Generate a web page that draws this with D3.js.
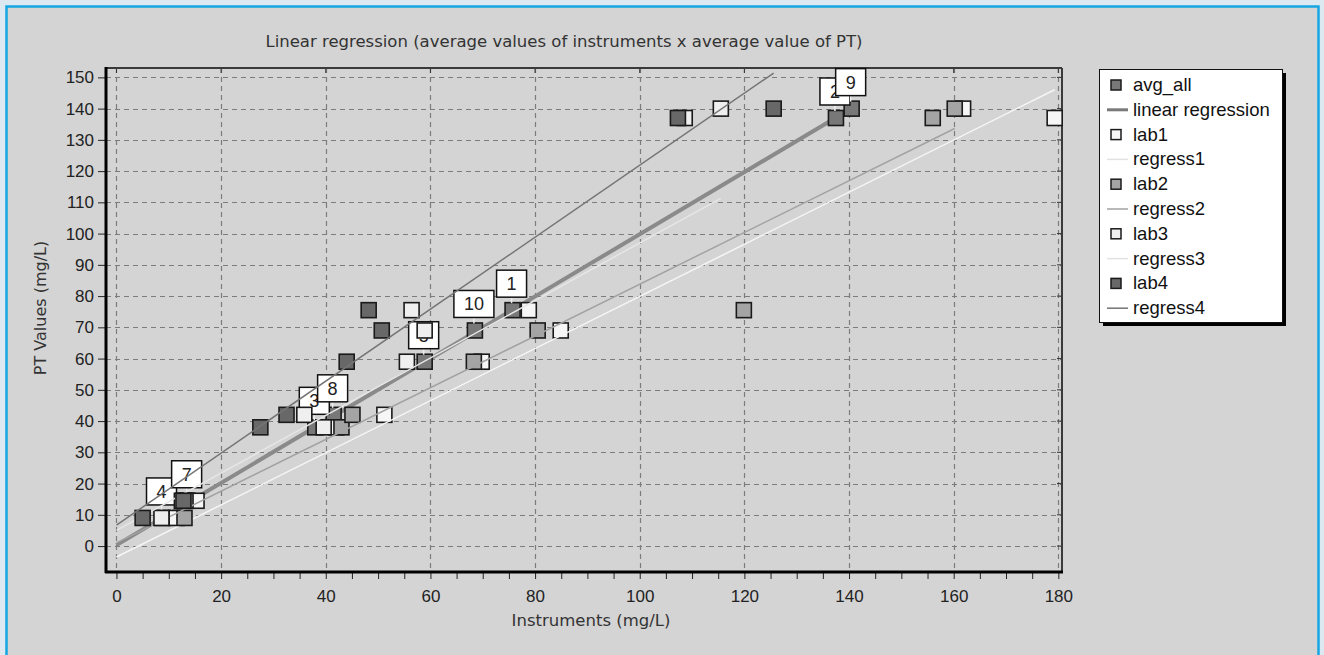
<!DOCTYPE html>
<html>
<head>
<meta charset="utf-8">
<script src="https://cdnjs.cloudflare.com/ajax/libs/d3/7.8.5/d3.min.js"></script>
<style>
  body { margin: 0; background: #dde9f0; }
  svg { display: block; }
  .tick text { font-family: 'Liberation Sans', Arial, sans-serif; font-size: 17px; fill: #222; }
</style>
</head>
<body>
<svg id="chart" width="1324" height="655"></svg>
<script>
// sample numbers (labels on avg_all points) and PT values
var samples = ['1', '2', '3', '4', '5', '7', '8', '9', '10'];
var ptValues = [75.5, 137, 38, 9, 59, 14.5, 42, 140, 69];

// instrument averages per series (mg/L)
var avgAll = [75.7, 137.5, 38, 8.8, 58.9, 13.6, 41.5, 140.5, 68.5];
var lab1 = [78.8, 179.3, 42, 11.5, 69.8, 15.3, 51.2, 161.8, 84.9];
var lab2 = [119.9, 156, 43, 13, 68.3, 13.2, 45.1, 160.2, 80.5];
var lab3 = [56.4, 108.6, 39.6, 8.6, 55.5, 12.5, 35.9, 115.5, 58.9];
var lab4 = [48.2, 107.3, 27.5, 5, 44, 12.8, 32.5, 125.6, 50.7];

var seriesNames = ['avg_all', 'lab1', 'lab2', 'lab3', 'lab4'];
var seriesValues = [avgAll, lab1, lab2, lab3, lab4];

// regression lines: y = a + b*x, from 0 to max x of the series
var regNames = ['linear regression', 'regress1', 'regress2', 'regress3', 'regress4'];
var regIntercept = [0.3, -3.5, 1, 5, 6.7];
var regSlope = [0.995, 0.834, 0.828, 0.92, 1.152];

var xTicks = d3.range(0, 181, 20);
var yTicks = d3.range(0, 151, 10);

(function () {
    var markFill = ['#787878', '#f6f6f6', '#a4a4a4', '#efefef', '#686868'];
    var lineColor = ['#8a8a8a', '#f6f6f6', '#a2a2a2', '#e6e6e6', '#747474'];
    var lineWidth = [4, 1.5, 1.5, 1.5, 1.5];

    var svg = d3.select('#chart');

    // frame
    svg.append('rect').attr('x', 0).attr('y', 0).attr('width', 1324).attr('height', 655).attr('fill', '#dde9f0');
    svg.append('rect').attr('x', 6.5).attr('y', 6.5).attr('width', 1312).attr('height', 700)
        .attr('fill', '#d4d4d4').attr('stroke', '#15a6e2').attr('stroke-width', 2.5);

    var pL = 106, pR = 1062, pT = 68, pB = 572;
    var x = d3.scaleLinear().domain([-2, 180.7]).range([pL, pR]);
    var y = d3.scaleLinear().domain([-8.3, 153]).range([pB, pT]);

    // title
    svg.append('text').attr('x', 564).attr('y', 47).attr('text-anchor', 'middle')
        .style('font-family', 'DejaVu Sans, sans-serif').style('font-size', '16.5px').attr('fill', '#333')
        .text('Linear regression (average values of instruments x average value of PT)');

    // grid
    var grid = svg.append('g').attr('stroke', '#7c7c7c').attr('stroke-dasharray', '5,4').attr('stroke-width', 1.2);
    grid.selectAll('.gx').data(xTicks).join('line')
        .attr('x1', function (d) { return Math.round(x(d)) + 0.5; })
        .attr('x2', function (d) { return Math.round(x(d)) + 0.5; })
        .attr('y1', pT).attr('y2', pB);
    grid.selectAll('.gy').data(yTicks).join('line')
        .attr('y1', function (d) { return Math.round(y(d)) + 0.5; })
        .attr('y2', function (d) { return Math.round(y(d)) + 0.5; })
        .attr('x1', pL).attr('x2', pR);

    // axes
    var xAxis = svg.append('g').attr('transform', 'translate(0,' + pB + ')')
        .call(d3.axisBottom(x).tickValues(d3.range(0, 181, 5)).tickSize(7).tickPadding(11)
            .tickFormat(function (d) { return d % 20 === 0 ? d : ''; }));
    xAxis.select('.domain').remove();
    xAxis.selectAll('.tick line').attr('stroke', '#222');

    var yAxis = svg.append('g').attr('transform', 'translate(' + pL + ',0)')
        .call(d3.axisLeft(y).tickValues(yTicks).tickSize(8).tickPadding(4));
    yAxis.select('.domain').remove();
    yAxis.selectAll('.tick line').attr('stroke', '#222');

    // inner ticks on top and right borders
    svg.append('g').selectAll('line').data(xTicks).join('line')
        .attr('x1', function (d) { return x(d); }).attr('x2', function (d) { return x(d); })
        .attr('y1', pT).attr('y2', pT + 5).attr('stroke', '#333');
    svg.append('g').selectAll('line').data(yTicks).join('line')
        .attr('y1', function (d) { return y(d); }).attr('y2', function (d) { return y(d); })
        .attr('x1', pR - 5).attr('x2', pR).attr('stroke', '#333');

    // borders
    svg.append('line').attr('x1', pL).attr('x2', pR).attr('y1', pT).attr('y2', pT).attr('stroke', '#3a3a3a').attr('stroke-width', 2);
    svg.append('line').attr('x1', pR).attr('x2', pR).attr('y1', pT).attr('y2', pB).attr('stroke', '#3a3a3a').attr('stroke-width', 2);
    svg.append('line').attr('x1', pL).attr('x2', pL).attr('y1', pT - 1).attr('y2', pB + 1).attr('stroke', '#000').attr('stroke-width', 3);
    svg.append('line').attr('x1', pL - 1).attr('x2', pR + 1).attr('y1', pB).attr('y2', pB).attr('stroke', '#000').attr('stroke-width', 3);

    // axis titles
    svg.append('text').attr('x', 591).attr('y', 626).attr('text-anchor', 'middle')
        .style('font-family', 'DejaVu Sans, sans-serif').style('font-size', '16.5px').attr('fill', '#333')
        .text('Instruments (mg/L)');
    svg.append('text').attr('transform', 'translate(46,308) rotate(-90)').attr('text-anchor', 'middle')
        .style('font-family', 'DejaVu Sans, sans-serif').style('font-size', '16px').attr('fill', '#333')
        .text('PT Values (mg/L)');

    var plot = svg.append('g');
    var S = 15; // marker size

    function drawLine(i) {
        var xmax = d3.max(seriesValues[i]);
        plot.append('line')
            .attr('x1', x(0)).attr('y1', y(regIntercept[i]))
            .attr('x2', x(xmax)).attr('y2', y(regIntercept[i] + regSlope[i] * xmax))
            .attr('stroke', lineColor[i]).attr('stroke-width', lineWidth[i]);
    }

    function drawPoints(i) {
        plot.append('g').selectAll('rect').data(seriesValues[i]).join('rect')
            .attr('x', function (d) { return x(d) - S / 2; })
            .attr('y', function (d, j) { return y(ptValues[j]) - S / 2; })
            .attr('width', S).attr('height', S)
            .attr('fill', markFill[i]).attr('stroke', '#1a1a1a').attr('stroke-width', 1.6);
    }

    // avg_all with its regression line and sample labels
    drawLine(0);
    drawPoints(0);
    var lbl = plot.append('g').selectAll('g').data(avgAll).join('g')
        .attr('transform', function (d, j) { return 'translate(' + (x(d) - 1) + ',' + (y(ptValues[j]) - 13) + ')'; });
    lbl.append('line').attr('x1', 0).attr('x2', 0).attr('y1', 0).attr('y2', 6).attr('stroke', '#eee').attr('stroke-width', 1.5);
    lbl.append('rect')
        .attr('x', function (d, j) { return samples[j].length > 1 ? -20 : -15; })
        .attr('y', -27)
        .attr('width', function (d, j) { return samples[j].length > 1 ? 40 : 30; })
        .attr('height', 27)
        .attr('fill', '#fff').attr('stroke', '#111').attr('stroke-width', 1.5);
    lbl.append('text').attr('x', 0).attr('y', -7).attr('text-anchor', 'middle')
        .style('font-family', 'Liberation Sans, Arial, sans-serif').style('font-size', '18px').attr('fill', '#222')
        .text(function (d, j) { return samples[j]; });

    // labs
    for (var i = 1; i < seriesValues.length; i++) {
        drawPoints(i);
        drawLine(i);
    }

    // legend
    var legendItems = [];
    seriesNames.forEach(function (n, i) {
        legendItems.push({ name: n, idx: i, kind: 'mark' });
        legendItems.push({ name: regNames[i], idx: i, kind: 'line' });
    });

    var lg = svg.append('g').attr('transform', 'translate(1099,69)');
    lg.append('rect').attr('x', 4).attr('y', 4).attr('width', 183).attr('height', 253).attr('fill', '#000');
    lg.append('rect').attr('x', 0.5).attr('y', 0.5).attr('width', 183).attr('height', 253)
        .attr('fill', '#fff').attr('stroke', '#111');
    var row = lg.selectAll('.row').data(legendItems).join('g')
        .attr('transform', function (d, k) { return 'translate(0,' + (16 + k * 24.8) + ')'; });
    row.filter(function (d) { return d.kind === 'mark'; }).append('rect')
        .attr('x', 12).attr('y', -5).attr('width', 10).attr('height', 10)
        .attr('fill', function (d) { return markFill[d.idx]; }).attr('stroke', '#1a1a1a').attr('stroke-width', 1.5);
    row.filter(function (d) { return d.kind === 'line'; }).append('line')
        .attr('x1', 8).attr('x2', 29).attr('y1', 0).attr('y2', 0)
        .attr('stroke', function (d) { return d.idx === 0 ? '#7a7a7a' : (d.idx === 1 || d.idx === 3 ? '#e2e2e2' : lineColor[d.idx]); })
        .attr('stroke-width', function (d) { return d.idx === 0 ? 3 : 1.5; });
    row.append('text').attr('x', 34).attr('y', 6)
        .style('font-family', 'Liberation Sans, Arial, sans-serif').style('font-size', '18.5px').attr('fill', '#111')
        .text(function (d) { return d.name; });
})();
</script>
</body>
</html>
